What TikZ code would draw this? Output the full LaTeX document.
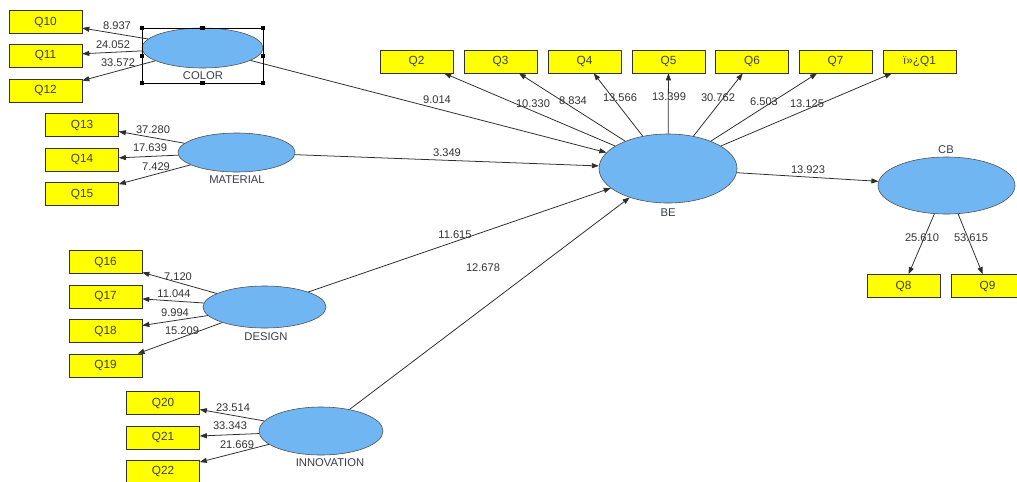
\documentclass[tikz,border=0pt]{standalone}
\usepackage{fontspec}
\setmainfont{Liberation Sans}
\usetikzlibrary{arrows.meta,shapes.geometric}
\definecolor{boxyellow}{RGB}{255,255,0}
\definecolor{lvblue}{RGB}{112,182,242}
\definecolor{edgegray}{RGB}{45,45,45}
\definecolor{txtgray}{RGB}{60,60,75}
\begin{document}
\begin{tikzpicture}[x=0.025cm,y=-0.025cm,
 ind/.style={draw=black!80, fill=boxyellow, minimum width=1.825cm, minimum height=0.575cm, inner sep=0, font=\fontsize{8.4}{9}\selectfont, text=black!75},
 lv/.style={ellipse, draw=black!70, fill=lvblue, inner sep=0},
 lvname/.style={font=\fontsize{8}{9}\selectfont, text=txtgray, inner sep=0},
 coef/.style={font=\fontsize{7.9}{9}\selectfont, text=black!80, inner sep=0},
 arr/.style={draw=edgegray, line width=0.55pt, -{Triangle[length=5pt,width=3.6pt]}},
 handle/.style={fill=black, minimum size=3.2pt, inner sep=0}
]
\useasboundingbox (0,0) rectangle (1017,481);
\fill[white] (0,0) rectangle (1017,481);

% latent variables
\node[lv, minimum width=3.025cm, minimum height=1cm] (COLOR) at (202.5,48) {};
\node[lv, minimum width=2.925cm, minimum height=0.975cm] (MAT) at (236.5,152.5) {};
\node[lv, minimum width=3.075cm, minimum height=1.05cm] (DES) at (264.5,307) {};
\node[lv, minimum width=3.1cm, minimum height=1.2cm] (INN) at (321,431) {};
\node[lv, minimum width=3.45cm, minimum height=1.725cm] (BE) at (668,168.5) {};
\node[lv, minimum width=3.425cm, minimum height=1.425cm] (CB) at (946.5,185.5) {};

\node[lvname] (nCOLOR) at (203,76) {COLOR};
\node[lvname] (nMAT) at (237,180) {MATERIAL};
\node[lvname] (nDES) at (266,337) {DESIGN};
\node[lvname] (nINN) at (330,463) {INNOVATION};
\node[lvname] (nBE) at (668,213) {BE};
\node[lvname] (nCB) at (946,150) {CB};

% selection frame around COLOR
\draw[black, line width=0.4pt] (142,28) rectangle (263,83);
\node[handle] (h1) at (142,28) {};
\node[handle] (h2) at (202.5,28) {};
\node[handle] (h3) at (263,28) {};
\node[handle] (h4) at (142,56) {};
\node[handle] (h5) at (263,56) {};
\node[handle] (h6) at (142,83) {};
\node[handle] (h7) at (202.5,83) {};
\node[handle] (h8) at (263,83) {};

% indicators
\node[ind] (Q10) at (45.5,22) {Q10};
\node[ind] (Q11) at (45.5,55.5) {Q11};
\node[ind] (Q12) at (45.5,90.5) {Q12};
\node[ind] (Q13) at (82,125) {Q13};
\node[ind] (Q14) at (82,159.5) {Q14};
\node[ind] (Q15) at (82,194) {Q15};
\node[ind] (Q16) at (105.5,262) {Q16};
\node[ind] (Q17) at (105.5,296.5) {Q17};
\node[ind] (Q18) at (105.5,331) {Q18};
\node[ind] (Q19) at (105.5,365.5) {Q19};
\node[ind] (Q20) at (163,403) {Q20};
\node[ind] (Q21) at (163,437.5) {Q21};
\node[ind] (Q22) at (163,471.5) {Q22};
\node[ind] (Q2) at (416.5,61.5) {Q2};
\node[ind] (Q3) at (500.5,61.5) {Q3};
\node[ind] (Q4) at (584.5,61.5) {Q4};
\node[ind] (Q5) at (668.5,61.5) {Q5};
\node[ind] (Q6) at (752,61.5) {Q6};
\node[ind] (Q7) at (835.5,61.5) {Q7};
\node[ind] (Q1) at (919.5,61.5) {ï»¿Q1};
\node[ind] (Q8) at (903.5,286) {Q8};
\node[ind] (Q9) at (987.5,286) {Q9};

% outer loadings
\draw[arr] (COLOR) -- (Q10);
\draw[arr] (COLOR) -- (Q11);
\draw[arr] (COLOR) -- (Q12);
\draw[arr] (MAT) -- (Q13);
\draw[arr] (MAT) -- (Q14);
\draw[arr] (MAT) -- (Q15);
\draw[arr] (DES) -- (Q16);
\draw[arr] (DES) -- (Q17);
\draw[arr] (DES) -- (Q18);
\draw[arr] (DES) -- (Q19);
\draw[arr] (INN) -- (Q20);
\draw[arr] (INN) -- (Q21);
\draw[arr] (INN) -- (Q22);
\draw[arr] (BE) -- (Q2);
\draw[arr] (BE) -- (Q3);
\draw[arr] (BE) -- (Q4);
\draw[arr] (BE) -- (Q5);
\draw[arr] (BE) -- (Q6);
\draw[arr] (BE) -- (Q7);
\draw[arr] (BE) -- (Q1);
\draw[arr] (CB) -- (Q8);
\draw[arr] (CB) -- (Q9);

% structural paths
\draw[arr] (COLOR) -- (BE);
\draw[arr] (MAT) -- (BE);
\draw[arr] (DES) -- (BE);
\draw[arr] (INN) -- (BE);
\draw[arr] (BE) -- (CB);

% coefficients
\node[coef] (c1) at (117,26) {8.937};
\node[coef] (c2) at (113,45) {24.052};
\node[coef] (c3) at (118,63) {33.572};
\node[coef] (c4) at (153,130) {37.280};
\node[coef] (c5) at (150,148) {17.639};
\node[coef] (c6) at (156,167) {7.429};
\node[coef] (c7) at (178,277) {7.120};
\node[coef] (c8) at (174,294) {11.044};
\node[coef] (c9) at (175,313) {9.994};
\node[coef] (c10) at (182,331) {15.209};
\node[coef] (c11) at (233,408) {23.514};
\node[coef] (c12) at (230,426) {33.343};
\node[coef] (c13) at (237,445) {21.669};
\node[coef] (c14) at (437,100) {9.014};
\node[coef] (c15) at (533,104) {10.330};
\node[coef] (c16) at (573,101) {8.834};
\node[coef] (c17) at (620,98) {13.566};
\node[coef] (c18) at (669,97) {13.399};
\node[coef] (c19) at (718,98) {30.762};
\node[coef] (c20) at (764,102) {6.503};
\node[coef] (c21) at (807,104) {13.125};
\node[coef] (c22) at (447,153) {3.349};
\node[coef] (c23) at (455,235) {11.615};
\node[coef] (c24) at (483,268) {12.678};
\node[coef] (c25) at (808,170) {13.923};
\node[coef] (c26) at (922,238) {25.610};
\node[coef] (c27) at (971,238) {53.615};
\end{tikzpicture}
\end{document}
